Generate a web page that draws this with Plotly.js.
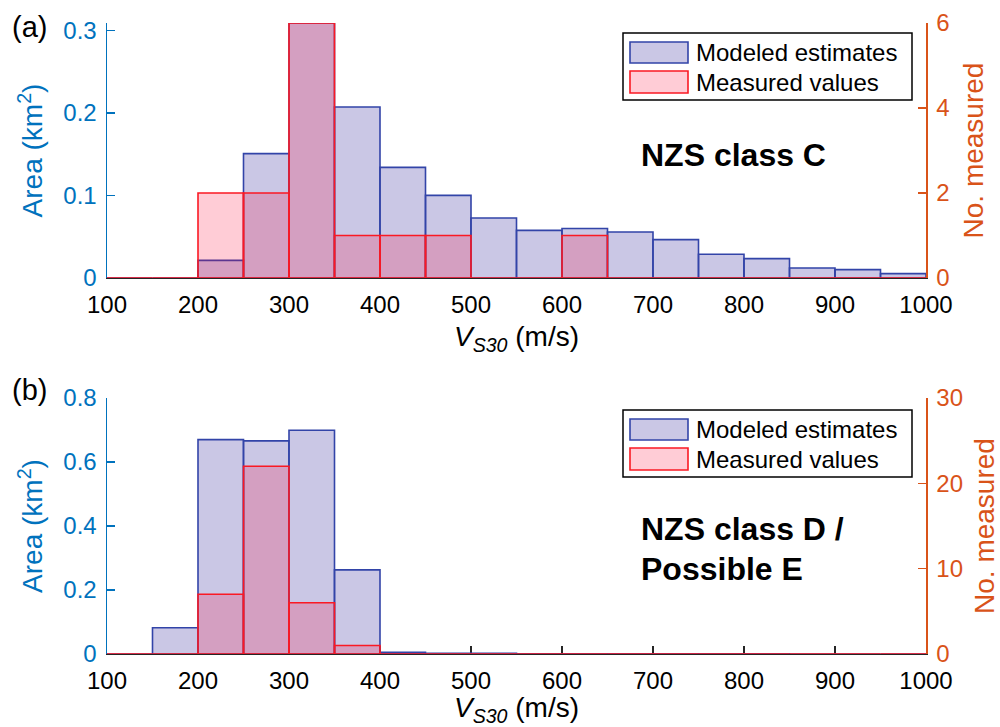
<!DOCTYPE html>
<html>
<head>
<meta charset="utf-8">
<script src="https://cdn.plot.ly/plotly-3.0.1.min.js"></script>
<style>html,body{margin:0;padding:0;background:#fff;}#chart{width:1000px;height:727px;}</style>
</head>
<body>
<div id="chart"></div>
<script>
// Bin centres (VS30 bins of width 50 m/s from 100 to 1000)
var binCenters = [125,175,225,275,325,375,425,475,525,575,625,675,725,775,825,875,925,975];
var binWidth = 50;
var xTicks = [100,200,300,400,500,600,700,800,900,1000];

// (a) NZS class C
var modeledC  = [0,0,0.0214,0.1506,0.3088,0.207,0.134,0.100,0.0726,0.0577,0.060,0.0557,0.0465,0.0287,0.0235,0.0121,0.0102,0.0053];
var measuredC = [0,0,2,2,6,1,1,1,0,0,1,0,0,0,0,0,0,0];

// (b) NZS class D / Possible E
var modeledD  = [0,0.082,0.670,0.666,0.699,0.263,0.005,0.002,0.002,0.001,0.001,0.001,0.001,0.001,0.001,0,0,0];
var measuredD = [0,0,7,22,6,1,0,0,0,0,0,0,0,0,0,0,0,0];

var legendLabels = ["Modeled estimates","Measured values"];
var panelLabels = ["(a)","(b)"];
var classLabels = ["NZS class C", "NZS class D /", "Possible E"];

var FONT = "Liberation Sans, Arial, Helvetica, sans-serif";
var BLUE_AX = "#0072BD", ORANGE_AX = "#D95319";
var MOD_FILL = "rgba(122,115,190,0.40)", MOD_EDGE = "rgb(50,68,168)";
var MEA_FILL = "rgba(255,0,50,0.20)", MEA_EDGE = "rgb(250,25,35)";

function modTrace(y, xa, ya){
  return {type:"bar", x:binCenters, y:y, width:binWidth, xaxis:xa, yaxis:ya,
    marker:{color:MOD_FILL, line:{color:MOD_EDGE, width:1.6}}, showlegend:false, hoverinfo:"skip"};
}
function meaTrace(y, xa, ya){
  return {type:"bar", x:binCenters, y:y, width:binWidth, xaxis:xa, yaxis:ya,
    marker:{color:MEA_FILL, line:{color:MEA_EDGE, width:1.6}}, showlegend:false, hoverinfo:"skip"};
}

var data = [
  modTrace(modeledC, "x", "y"),
  meaTrace(measuredC, "x", "y2"),
  modTrace(modeledD, "x2", "y3"),
  meaTrace(measuredD, "x2", "y4")
];

var W = 1000, H = 727;
function px(v){ return v / W; }
function py(v){ return 1 - v / H; }

var xDom = [px(107), px(926)];
var topDom = [py(278), py(23)];
var botDom = [py(654), py(398)];

function xAxis(anchor){
  return {domain:xDom, anchor:anchor, range:[100,1000], tickvals:xTicks,
    ticks:"inside", ticklen:8, tickwidth:1.5, tickcolor:"#262626",
    showline:true, linecolor:"#262626", linewidth:1.3, showgrid:false, zeroline:false,
    layer:"below traces", ticklabelstandoff:5,
    tickfont:{family:FONT, size:24, color:"#000"},
    title:{text:"<i>V</i><sub><i>S30</i></sub> (m/s)", font:{family:FONT, size:28, color:"#000"}, standoff:9}};
}
function yLeft(dom, anchor, range, tickvals){
  return {domain:dom, anchor:anchor, range:range, tickvals:tickvals,
    ticks:"inside", ticklen:8, tickwidth:1.5, tickcolor:BLUE_AX,
    showline:true, linecolor:BLUE_AX, linewidth:1.5, showgrid:false, zeroline:false,
    tickfont:{family:FONT, size:24, color:BLUE_AX}, ticklabelstandoff:4,
    title:{text:"Area (km<sup>2</sup>)", font:{family:FONT, size:28, color:BLUE_AX}, standoff:12}};
}
function yRight(over, anchor, range, tickvals){
  return {overlaying:over, anchor:anchor, side:"right", range:range, tickvals:tickvals,
    ticks:"inside", ticklen:8, tickwidth:1.5, tickcolor:ORANGE_AX,
    showline:true, linecolor:ORANGE_AX, linewidth:1.5, showgrid:false, zeroline:false,
    tickfont:{family:FONT, size:24, color:ORANGE_AX}, ticklabelstandoff:4,
    title:{text:"No. measured", font:{family:FONT, size:28, color:ORANGE_AX}, standoff:14}};
}

var shapes = [], annotations = [];
function addLegend(offsetY){
  shapes.push({type:"rect", xref:"paper", yref:"paper", x0:px(623), x1:px(912), y0:py(33+offsetY), y1:py(100+offsetY),
    line:{color:"#000", width:1.5}, fillcolor:"#fff", layer:"above"});
  shapes.push({type:"rect", xref:"paper", yref:"paper", x0:px(630), x1:px(688), y0:py(42+offsetY), y1:py(63+offsetY),
    line:{color:MOD_EDGE, width:1.6}, fillcolor:MOD_FILL, layer:"above"});
  shapes.push({type:"rect", xref:"paper", yref:"paper", x0:px(630), x1:px(688), y0:py(71+offsetY), y1:py(93+offsetY),
    line:{color:MEA_EDGE, width:1.6}, fillcolor:MEA_FILL, layer:"above"});
  annotations.push({xref:"paper", yref:"paper", x:px(694), y:py(52.5+offsetY), xanchor:"left", yanchor:"middle",
    text:legendLabels[0], showarrow:false, font:{family:FONT, size:24, color:"#000"}});
  annotations.push({xref:"paper", yref:"paper", x:px(694), y:py(82+offsetY), xanchor:"left", yanchor:"middle",
    text:legendLabels[1], showarrow:false, font:{family:FONT, size:24, color:"#000"}});
}
addLegend(0);
addLegend(377);

annotations.push({xref:"paper", yref:"paper", x:px(10), y:py(27), xanchor:"left", yanchor:"middle",
  text:panelLabels[0], showarrow:false, font:{family:FONT, size:29, color:"#000"}});
annotations.push({xref:"paper", yref:"paper", x:px(10), y:py(390), xanchor:"left", yanchor:"middle",
  text:panelLabels[1], showarrow:false, font:{family:FONT, size:29, color:"#000"}});
annotations.push({xref:"paper", yref:"paper", x:px(639), y:py(155), xanchor:"left", yanchor:"middle",
  text:"<b>"+classLabels[0]+"</b>", showarrow:false, font:{family:FONT, size:32, color:"#000"}});
annotations.push({xref:"paper", yref:"paper", x:px(639), y:py(529), xanchor:"left", yanchor:"middle",
  text:"<b>"+classLabels[1]+"</b>", showarrow:false, font:{family:FONT, size:32, color:"#000"}});
annotations.push({xref:"paper", yref:"paper", x:px(639), y:py(569), xanchor:"left", yanchor:"middle",
  text:"<b>"+classLabels[2]+"</b>", showarrow:false, font:{family:FONT, size:32, color:"#000"}});

var layout = {
  width:W, height:H, margin:{l:0, r:0, t:0, b:0},
  paper_bgcolor:"#fff", plot_bgcolor:"rgba(0,0,0,0)",
  barmode:"overlay", bargap:0, showlegend:false,
  font:{family:FONT},
  xaxis: xAxis("y"),
  xaxis2: xAxis("y3"),
  yaxis: yLeft(topDom, "x", [0,0.3088], [0,0.1,0.2,0.3]),
  yaxis2: yRight("y", "x", [0,6], [0,2,4,6]),
  yaxis3: yLeft(botDom, "x2", [0,0.8], [0,0.2,0.4,0.6,0.8]),
  yaxis4: yRight("y3", "x2", [0,30], [0,10,20,30]),
  shapes:shapes, annotations:annotations
};

Plotly.newPlot("chart", data, layout, {displayModeBar:false, staticPlot:true});
</script>
</body>
</html>
